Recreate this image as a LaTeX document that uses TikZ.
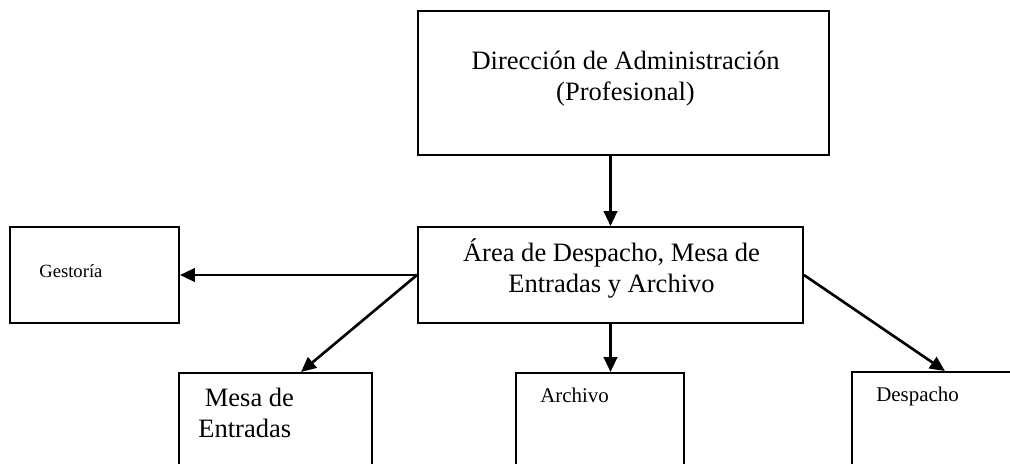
\documentclass[tikz,border=0pt]{standalone}
\usepackage{fontspec}
\setmainfont{Liberation Serif}
\usetikzlibrary{arrows.meta}

\tikzset{
  box/.style={draw, line width=1.1pt, inner sep=0pt},
  bigtxt/.style={font=\fontsize{15.1}{17.6}\selectfont, align=center, inner sep=0pt},
  smalltxt/.style={font=\fontsize{11.9}{14}\selectfont, inner sep=0pt},
  arr/.style={line width=1.5pt, -{Triangle[length=0.3cm,width=0.27cm]}}
}

\begin{document}
\begin{tikzpicture}
    % frame of the page, the lower boxes run out of it
    \useasboundingbox (0,0) rectangle (20.2,9.26);
    \clip (0,0) rectangle (20.2,9.26);
    % boxes
    \node[box, minimum width=8.22cm, minimum height=2.88cm] (dir) at (12.47,7.6) {};
    \node[box, minimum width=7.7cm, minimum height=1.92cm] (area) at (12.21,3.76) {};
    \node[box, minimum width=3.38cm, minimum height=1.92cm] (gest) at (1.89,3.76) {};
    \node[box, anchor=north west, minimum width=3.86cm, minimum height=1.92cm] (mesa) at (3.56,1.82) {};
    \node[box, anchor=north west, minimum width=3.36cm, minimum height=1.92cm] (arch) at (10.3,1.82) {};
    \node[box, anchor=north west, minimum width=3.36cm, minimum height=1.92cm] (desp) at (17.02,1.84) {};
    % texts
    \node[bigtxt] (dirtxt) at (12.51,7.68) {Dirección de Administración\\(Profesional)};
    \node[bigtxt] (areatxt) at (12.23,3.89) {Área de Despacho, Mesa de\\Entradas y Archivo};
    \node[font=\fontsize{10.6}{12}\selectfont, inner sep=0pt, anchor=base west] (gesttxt) at (0.78,3.72) {Gestoría};
    \node[bigtxt, align=left, anchor=north west] (mesatxt) at (3.96,1.5) {\hspace*{0.13cm}Mesa de\\Entradas};
    \node[smalltxt, anchor=base west] (archtxt) at (10.8,1.22) {Archivo};
    \node[smalltxt, anchor=base west] (desptxt) at (17.52,1.24) {Despacho};
    % arrows
    \draw[arr] (area.north |- dir.south) -- (area.north);
    \draw[arr] (area.west) -- (gest.east);
    \draw[arr] (area.west) -- ([xshift=0.51cm]mesa.north);
    \draw[arr] (area.south) -- (area.south |- arch.north);
    \draw[arr] (area.east) -- ([xshift=0.18cm]desp.north);
\end{tikzpicture}
\end{document}
